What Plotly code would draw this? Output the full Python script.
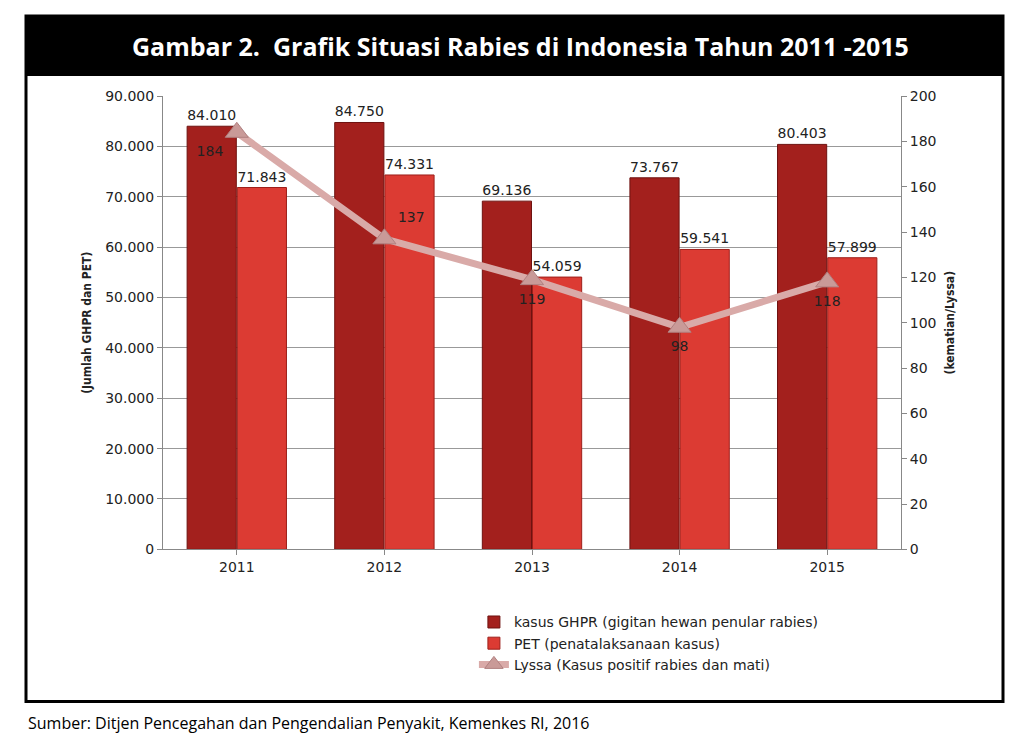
import plotly.graph_objects as go

years = ["2011", "2012", "2013", "2014", "2015"]
ghpr = [84010, 84750, 69136, 73767, 80403]
pet = [71843, 74331, 54059, 59541, 57899]
lyssa = [184, 137, 119, 98, 118]
lyssa_pos = ["bottom left", "top right", "bottom center", "bottom center", "bottom center"]

def fmt(v):
    return f"{v:,}".replace(",", ".")

def py(t):
    # convert target pixel row to paper fraction (empirical correction)
    d = (t - 15) / 0.978
    return 1 - d / 749

fig = go.Figure()
fig.add_trace(go.Bar(x=years, y=ghpr, name="kasus GHPR (gigitan hewan penular rabies)",
                     marker=dict(color="#a3201d", line=dict(color="#6e1210", width=1)),
                     text=[fmt(v) for v in ghpr], textposition="outside", cliponaxis=False,
                     textfont=dict(size=14, color="#222")))
fig.add_trace(go.Bar(x=years, y=pet, name="PET (penatalaksanaan kasus)",
                     marker=dict(color="#dc3b33", line=dict(color="#9e1f1a", width=1)),
                     text=[fmt(v) for v in pet], textposition="outside", cliponaxis=False,
                     textfont=dict(size=14, color="#222")))
fig.add_trace(go.Scatter(x=years, y=lyssa, yaxis="y2", name="Lyssa (Kasus positif rabies dan mati)",
                         mode="lines+markers+text", text=[str(v) for v in lyssa], textposition=lyssa_pos,
                         textfont=dict(size=14, color="#222"),
                         line=dict(color="#d9aaa8", width=7),
                         marker=dict(symbol="triangle-up", size=20, color="#c99a98",
                                     line=dict(color="#b08080", width=1))))

fig.update_layout(
    width=1024, height=749, margin=dict(l=0, r=0, t=0, b=0),
    paper_bgcolor="white", plot_bgcolor="white",
    separators=",.", barmode="group", bargap=0.32, bargroupgap=0.02,
    font=dict(family="DejaVu Sans", size=13, color="#222"),
    xaxis=dict(domain=[155/1024, 893/1024], showline=True, linecolor="#888",
               ticks="outside", tickcolor="#888", tickfont=dict(size=14)),
    yaxis=dict(domain=[py(548), py(95)], range=[0, 90000], dtick=10000,
               tickformat=",d", gridcolor="#999", showline=True, linecolor="#888",
               ticks="outside", tickcolor="#888", tickfont=dict(size=14),
               title=dict(text="<b>(Jumlah GHPR dan PET)</b>", font=dict(size=12, family="DejaVu Sans Condensed"), standoff=10)),
    yaxis2=dict(overlaying="y", side="right", range=[0, 200], dtick=20,
                showgrid=False, showline=True, linecolor="#888", ticks="outside",
                tickcolor="#888", tickfont=dict(size=14), anchor="x",
                title=dict(text="<b>(kematian/Lyssa)</b>", font=dict(size=12, family="DejaVu Sans Condensed"), standoff=10)),
    legend=dict(x=0.455, y=py(605), xanchor="left", yanchor="top", font=dict(size=14),
                bgcolor="rgba(0,0,0,0)", tracegroupgap=2),
    shapes=[
        dict(type="rect", xref="paper", yref="paper", x0=18/1024, x1=995/1024, y0=py(700), y1=py(15),
             line=dict(color="black", width=3), layer="below"),
        dict(type="rect", xref="paper", yref="paper", x0=18/1024, x1=995/1024, y0=py(75), y1=py(15),
             fillcolor="black", line=dict(color="black", width=0), layer="below"),
    ],
    annotations=[
        dict(text="<b>Gambar 2.  Grafik Situasi Rabies di Indonesia Tahun 2011 -2015</b>", xref="paper", yref="paper",
             x=0.5, y=py(45), yanchor="middle", showarrow=False, font=dict(size=25, color="white", family="Open Sans")),
        dict(text="Sumber: Ditjen Pencegahan dan Pengendalian Penyakit, Kemenkes RI, 2016", xref="paper", yref="paper",
             x=18/1024, y=py(722), xanchor="left", yanchor="middle", showarrow=False, font=dict(size=16, color="black", family="Open Sans")),
    ],
)
fig.write_html("out.html")
